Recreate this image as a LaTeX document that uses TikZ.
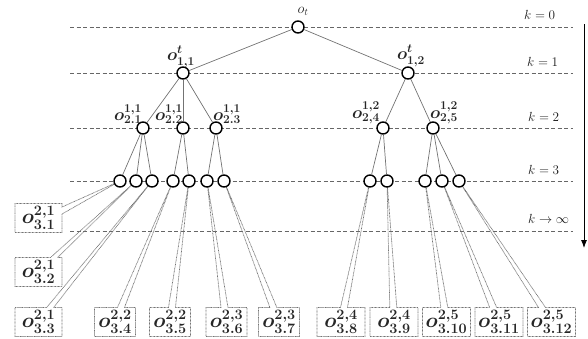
\documentclass[tikz,border=0pt]{standalone}
\usetikzlibrary{shapes.callouts,arrows.meta}
\begin{document}
\begin{tikzpicture}[x=1pt,y=-1pt,
  lvl/.style={draw=black!60, dash pattern=on 4pt off 2.5pt, line width=0.8pt},
  state/.style={circle, draw=black, line width=1.4pt, fill=white, inner sep=0pt, minimum size=12pt},
  branch/.style={draw=black!55, line width=0.7pt},
  leaf/.style={rectangle callout, draw=black!55, dash pattern=on 0.8pt off 0.6pt,
    line width=0.7pt, minimum height=29pt, inner sep=0pt, callout pointer width=7pt,
    font=\huge\boldmath, text=black!85},
  leafA/.style={leaf, minimum width=47pt},
  leafB/.style={leaf, minimum width=41pt},
  leafC/.style={leaf, minimum width=48pt},
  tag/.style={inner sep=0pt, font=\LARGE\boldmath, text=black!85},
  klabel/.style={anchor=west, inner sep=0pt, font=\large, text=black!90},
]
\useasboundingbox (0,0) rectangle (588,338);

% level lines
\draw[lvl] (70,27) -- (573,27);
\draw[lvl] (70,73) -- (573,73);
\draw[lvl] (70,128) -- (573,128);
\draw[lvl] (70,181) -- (573,181);
\draw[lvl] (70,231) -- (573,231);

% level labels
\node[klabel] (k0) at (524,15) {\scalebox{1.1}{$k=0$}};
\node[klabel] (k1) at (527,62) {\scalebox{1.1}{$k=1$}};
\node[klabel] (k2) at (528,117) {\scalebox{1.1}{$k=2$}};
\node[klabel] (k3) at (528,170) {\scalebox{1.1}{$k=3$}};
\node[klabel] (kinf) at (528,219) {\scalebox{1.1}{$k\rightarrow\infty$}};

% time axis
\coordinate (atop) at (584,24);
\coordinate (abot) at (584,248);
\draw[line width=0.8pt, -{Latex[length=8pt,width=6pt]}] (atop) -- (abot);

% positions of the tree states
\coordinate (p0) at (298,27);
\coordinate (p11) at (183,73);
\coordinate (p12) at (408,73);
\coordinate (p21) at (143,128);
\coordinate (p22) at (183,128);
\coordinate (p23) at (216,128);
\coordinate (p24) at (383,128);
\coordinate (p25) at (433,128);
\coordinate (c1) at (120,181);
\coordinate (c2) at (136,181);
\coordinate (c3) at (152,181);
\coordinate (c4) at (173,181);
\coordinate (c5) at (189,181);
\coordinate (c6) at (207,181);
\coordinate (c7) at (224,181);
\coordinate (c8) at (370,181);
\coordinate (c9) at (387,181);
\coordinate (c10) at (425,181);
\coordinate (c11) at (442,181);
\coordinate (c12) at (459,181);

% leaf callouts
\node[leafA, callout absolute pointer={(c1)}] (b1) at (38.5,218) {$o^{2,1}_{3.1}$};
\node[leafA, callout absolute pointer={(c2)}] (b2) at (38.5,272) {$o^{2,1}_{3.2}$};
\node[leafA, callout absolute pointer={(c3)}] (b3) at (38.5,322) {$o^{2,1}_{3.3}$};
\node[leafB, callout absolute pointer={(c4)}] (b4) at (115,322) {$o^{2,2}_{3.4}$};
\node[leafB, callout absolute pointer={(c5)}] (b5) at (170,322) {$o^{2,2}_{3.5}$};
\node[leafB, callout absolute pointer={(c6)}] (b6) at (226.5,322) {$o^{2,3}_{3.6}$};
\node[leafB, callout absolute pointer={(c7)}] (b7) at (279,322) {$o^{2,3}_{3.7}$};
\node[leafC, callout absolute pointer={(c8)}] (b8) at (341,322) {$o^{2,4}_{3.8}$};
\node[leafC, callout absolute pointer={(c9)}] (b9) at (394,322) {$o^{2,4}_{3.9}$};
\node[leafC, callout absolute pointer={(c10)}] (b10) at (446.5,322) {$o^{2,5}_{3.10}$};
\node[leafC, callout absolute pointer={(c11)}] (b11) at (499,322) {$o^{2,5}_{3.11}$};
\node[leafC, callout absolute pointer={(c12)}] (b12) at (551.5,322) {$o^{2,5}_{3.12}$};

% tree states
\node[state] (n0) at (p0) {};
\node[state] (n11) at (p11) {};
\node[state] (n12) at (p12) {};
\node[state] (n21) at (p21) {};
\node[state] (n22) at (p22) {};
\node[state] (n23) at (p23) {};
\node[state] (n24) at (p24) {};
\node[state] (n25) at (p25) {};
\foreach \i in {1,...,12} {\node[state] (m\i) at (c\i) {};}

% branches
\draw[branch] (n0) -- (n11);
\draw[branch] (n0) -- (n12);
\draw[branch] (n11) -- (n21);
\draw[branch] (n11) -- (n22);
\draw[branch] (n11) -- (n23);
\draw[branch] (n12) -- (n24);
\draw[branch] (n12) -- (n25);
\draw[branch] (n21) -- (m1);
\draw[branch] (n21) -- (m2);
\draw[branch] (n21) -- (m3);
\draw[branch] (n22) -- (m4);
\draw[branch] (n22) -- (m5);
\draw[branch] (n23) -- (m6);
\draw[branch] (n23) -- (m7);
\draw[branch] (n24) -- (m8);
\draw[branch] (n24) -- (m9);
\draw[branch] (n25) -- (m10);
\draw[branch] (n25) -- (m11);
\draw[branch] (n25) -- (m12);

% state labels
\node[tag, font=\Large] (t0) at (303,11) {$o_t$};
\node[tag] (t11) at (181,57) {$o^{t}_{1,1}$};
\node[tag] (t12) at (411,56) {$o^{t}_{1,2}$};
\node[tag] (t21) at (128,114) {$o^{1,1}_{2.1}$};
\node[tag] (t22) at (169,114) {$o^{1,1}_{2.2}$};
\node[tag] (t23) at (227,114) {$o^{1,1}_{2.3}$};
\node[tag] (t24) at (366,113) {$o^{1,2}_{2,4}$};
\node[tag] (t25) at (444,113) {$o^{1,2}_{2,5}$};
\end{tikzpicture}
\end{document}
